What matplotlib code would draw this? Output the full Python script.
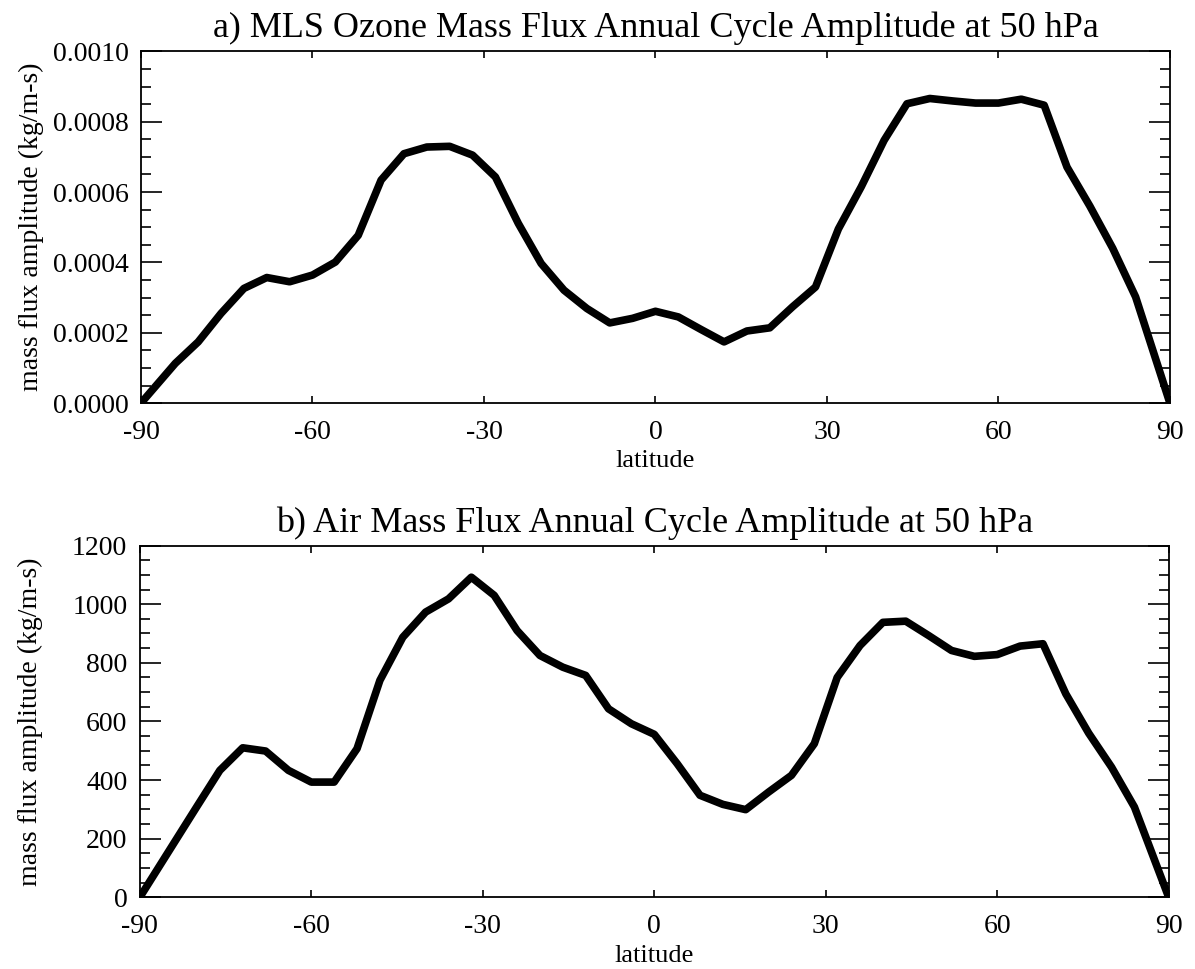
import numpy as np
import matplotlib.pyplot as plt
from matplotlib.ticker import MultipleLocator

plt.rcParams['font.family'] = ['Liberation Serif', 'DejaVu Serif']
plt.rcParams['axes.unicode_minus'] = False

# a) MLS ozone mass flux annual cycle amplitude at 50 hPa (kg/m-s)
lat_a = [-90, -84, -80, -76, -72, -68, -64, -60, -56, -52, -48, -44, -40, -36,
         -32, -28, -24, -20, -16, -12, -8, -4, 0, 4, 8, 12, 16, 20, 24, 28, 32,
         36, 40, 44, 48, 52, 56, 60, 64, 68, 72, 76, 80, 84, 90]
ozone_amp = [0.0, 1.13, 1.74, 2.55, 3.26, 3.57, 3.45, 3.64, 4.01, 4.77, 6.34,
             7.09, 7.28, 7.30, 7.05, 6.43, 5.11, 3.97, 3.21, 2.69, 2.28, 2.41,
             2.61, 2.45, 2.09, 1.74, 2.05, 2.14, 2.74, 3.30, 4.95, 6.15, 7.47,
             8.51, 8.66, 8.59, 8.53, 8.53, 8.64, 8.47, 6.71, 5.60, 4.40, 3.02,
             0.0]
ozone_amp = [v * 1e-4 for v in ozone_amp]

# b) air mass flux annual cycle amplitude at 50 hPa (kg/m-s)
lat_b = lat_a
air_amp = [0, 186, 310, 433, 510, 499, 433, 393, 393, 507, 740, 887, 973, 1018,
           1092, 1030, 910, 825, 785, 757, 643, 592, 556, 456, 348, 317, 299,
           359, 416, 524, 750, 859, 938, 942, 893, 842, 822, 828, 857, 865,
           694, 560, 444, 308, 0]

fig = plt.figure(figsize=(11.95, 9.69), dpi=100, facecolor='w')
ax1 = fig.add_axes([0.118, 0.584, 0.861, 0.363])
ax2 = fig.add_axes([0.117, 0.074, 0.861, 0.363])


def style(ax):
    ax.set_xlim(-90, 90)
    ax.xaxis.set_major_locator(MultipleLocator(30))
    ax.tick_params(axis='both', which='both', direction='in',
                   top=True, right=True, labelsize=20, width=1.2)
    ax.tick_params(axis='x', which='major', length=5, pad=12)
    ax.tick_params(axis='y', which='major', length=15, pad=9)
    ax.tick_params(axis='y', which='minor', length=7.5)
    for s in ax.spines.values():
        s.set_linewidth(1.3)
    ax.set_xlabel('latitude', fontsize=19, labelpad=4)
    ax.set_ylabel('mass flux amplitude (kg/m-s)', fontsize=20)
    ax.yaxis.set_label_coords(-0.094, 0.5)


ax1.plot(lat_a, ozone_amp, color='k', lw=5.5, solid_joinstyle='round')
style(ax1)
ax1.set_ylim(0, 0.001)
ax1.yaxis.set_major_locator(MultipleLocator(0.0002))
ax1.yaxis.set_minor_locator(MultipleLocator(0.00005))
ax1.yaxis.set_major_formatter(plt.FormatStrFormatter('%.4f'))
ax1.set_title('a) MLS Ozone Mass Flux Annual Cycle Amplitude at 50 hPa',
              fontsize=26, pad=10)

ax2.plot(lat_b, air_amp, color='k', lw=5.5, solid_joinstyle='round')
style(ax2)
ax2.set_ylim(0, 1200)
ax2.yaxis.set_major_locator(MultipleLocator(200))
ax2.yaxis.set_minor_locator(MultipleLocator(50))
ax2.set_title('b) Air Mass Flux Annual Cycle Amplitude at 50 hPa',
              fontsize=26, pad=10)

fig.savefig('out.png', dpi=100)
